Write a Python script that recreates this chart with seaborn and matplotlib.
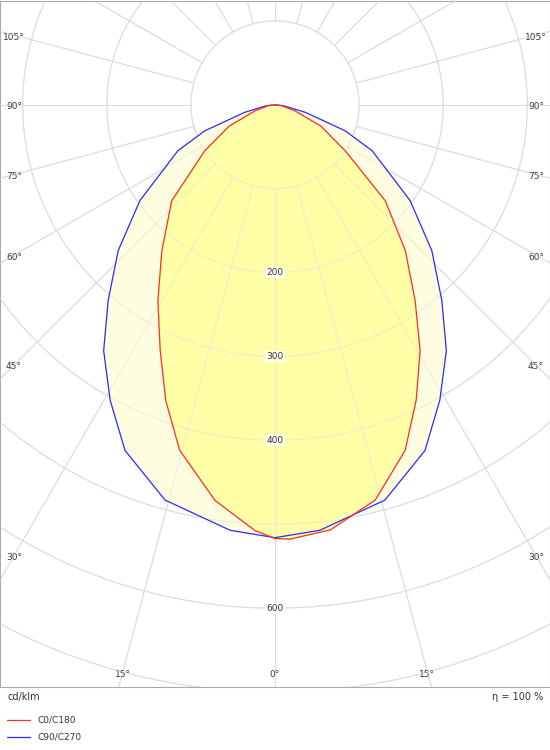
import numpy as np
import matplotlib
matplotlib.use("Agg")
import matplotlib.pyplot as plt
import seaborn as sns

sns.set_style("white")
plt.rcParams['font.family'] = ['DejaVu Sans']

# C0 (right half of red), C180 (left half of red), C90/C270 (blue, symmetric)
ang_c0 = [0, 2, 7.4, 14.2, 20.6, 25.5, 30.5, 35.5, 41.7, 48.9, 56.7, 65, 73, 82, 90]
val_c0 = [517, 518, 511, 486, 440, 390, 340, 287, 233, 174, 100, 60, 25, 8, 0]
ang_c180 = [0, 2.7, 8.6, 15.4, 20.2, 25, 30.8, 37.7, 47, 56.7, 65, 73, 82, 90]
val_c180 = [517, 508, 477, 427, 376, 323, 272, 220, 168, 100, 60, 25, 8, 0]
ang_c90 = [0, 6, 15.5, 23.4, 29.1, 34.8, 40.4, 47, 54.6, 64.6, 69.6, 76, 84, 90]
val_c90 = [516, 510, 489, 449, 403, 357, 306, 255, 197, 128, 89, 37, 10, 0]
rings = [100, 200, 300, 400, 500, 600, 700, 800]
ring_labels = {200: "200", 300: "300", 400: "400", 600: "600"}
angle_labels = [105, 90, 75, 60, 45, 30]
angle_label_y = [37, 106, 176, 257, 366, 557]

def curve(ar, vr, al, vl):
    ar = np.deg2rad(np.array(ar)); al = np.deg2rad(np.array(al))
    vr = np.array(vr, float); vl = np.array(vl, float)
    xr = vr * np.sin(ar); yr = -vr * np.cos(ar)
    xl = -vl * np.sin(al); yl = -vl * np.cos(al)
    return np.concatenate([xl[::-1], xr[1:]]), np.concatenate([yl[::-1], yr[1:]])

fig = plt.figure(figsize=(5.5, 7.5), dpi=100)
ax = fig.add_axes([0, 1 - 687 / 750, 1, 687 / 750 - 0.001])
ax.set_xlim(-327, 327); ax.set_ylim(-694, 124)

th = np.linspace(0, 2 * np.pi, 400)
def grid(z, alpha):
    for r in rings:
        ax.plot(r * np.cos(th), r * np.sin(th), color="#dddddd", lw=0.8, zorder=z, alpha=alpha)
    for d in range(0, 360, 15):
        a = np.deg2rad(d)
        ax.plot([100 * np.sin(a), 1000 * np.sin(a)], [-100 * np.cos(a), -1000 * np.cos(a)],
                color="#dddddd", lw=0.8, zorder=z, alpha=alpha)

grid(1, 1.0)
xb, yb = curve(ang_c90, val_c90, ang_c90, val_c90)
xr, yr = curve(ang_c0, val_c0, ang_c180, val_c180)
ax.fill(xb, yb, color="#fffde0", zorder=2)
ax.fill(xr, yr, color="#ffffa8", zorder=3)
grid(3.5, 0.5)
sns.lineplot(x=xr, y=yr, sort=False, color="#ff2a2a", lw=0.9, ax=ax, zorder=5, estimator=None)
sns.lineplot(x=xb, y=yb, sort=False, color="#2a2aff", lw=0.9, ax=ax, zorder=4, estimator=None)

for r, t in ring_labels.items():
    ax.text(0, -r, t, ha="center", va="center", fontsize=6.5, color="#333333", zorder=6,
            bbox=dict(facecolor="white", edgecolor="none", pad=1, alpha=0.8))

tr = ax.transAxes
H = 687
for lab, py in zip(angle_labels, angle_label_y):
    ax.text(14 / 550, 1 - py / H, f"{lab}°", transform=tr, ha="center", va="center", fontsize=6.5, color="#333333")
    ax.text(536 / 550, 1 - py / H, f"{lab}°", transform=tr, ha="center", va="center", fontsize=6.5, color="#333333")
for px, lab in [(123, "15°"), (275, "0°"), (427, "15°")]:
    ax.text(px / 550, 1 - 674 / H, lab, transform=tr, ha="center", va="center", fontsize=6.5, color="#333333")

ax.set_xticks([]); ax.set_yticks([])
for s in ax.spines.values():
    s.set_color("#aaaaaa"); s.set_linewidth(0.8)

fig.text(7 / 550, 1 - 697 / 750, "cd/klm", ha="left", va="center", fontsize=7, color="#333333")
fig.text(543 / 550, 1 - 697 / 750, "η = 100 %", ha="right", va="center", fontsize=7, color="#333333")
fig.add_artist(plt.Line2D([7 / 550, 30 / 550], [1 - 720 / 750] * 2, color="#ff2a2a", lw=0.9))
fig.add_artist(plt.Line2D([7 / 550, 30 / 550], [1 - 737 / 750] * 2, color="#2a2aff", lw=0.9))
fig.text(38 / 550, 1 - 720 / 750, "C0/C180", ha="left", va="center", fontsize=6.5, color="#333333")
fig.text(38 / 550, 1 - 737 / 750, "C90/C270", ha="left", va="center", fontsize=6.5, color="#333333")

fig.savefig("out.png", dpi=100)
